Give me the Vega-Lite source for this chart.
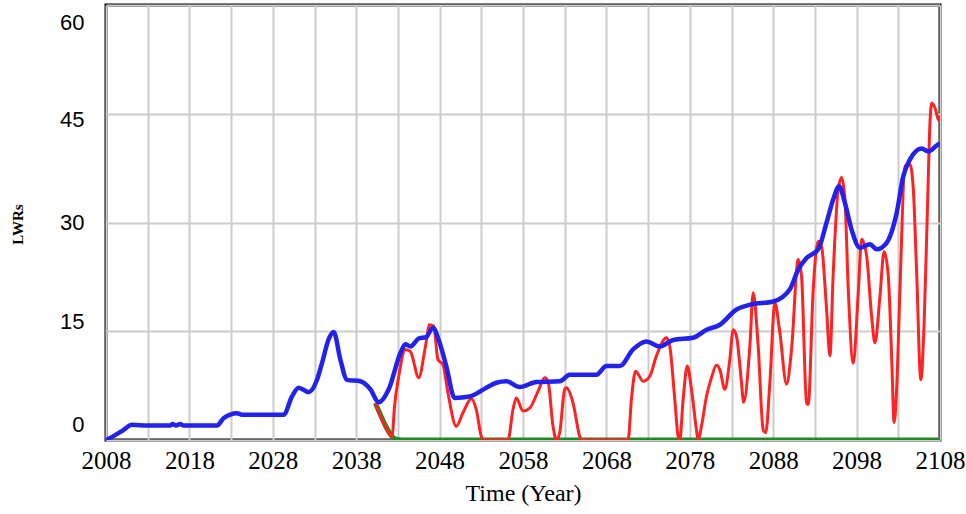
{
  "$schema": "https://vega.github.io/schema/vega-lite/v6.json",
  "width": 834,
  "height": 435,
  "autosize": {"type": "none"},
  "padding": {"left": 106, "top": 5, "right": 26, "bottom": 74},
  "background": "white",
  "config": {
    "view": {"stroke": "black", "strokeWidth": 3},
    "axis": {"gridColor": "#cccccc", "gridWidth": 2, "domain": false, "ticks": false}
  },
  "datasets": {
    "blue": [
      {"year": 2008, "value": 0}, {"year": 2009, "value": 0.6}, {"year": 2010, "value": 1.3},
      {"year": 2011.1, "value": 2.1}, {"year": 2013, "value": 2.0}, {"year": 2015.7, "value": 2.0},
      {"year": 2016, "value": 2.2}, {"year": 2016.4, "value": 2.0}, {"year": 2016.9, "value": 2.2},
      {"year": 2017.3, "value": 2.0}, {"year": 2021.3, "value": 2.0}, {"year": 2022.1, "value": 3.0},
      {"year": 2023.7, "value": 3.7}, {"year": 2024.3, "value": 3.5}, {"year": 2029.3, "value": 3.5},
      {"year": 2030.3, "value": 6.0}, {"year": 2031.1, "value": 7.2}, {"year": 2032.3, "value": 6.6},
      {"year": 2033.3, "value": 8.3}, {"year": 2033.9, "value": 10.6}, {"year": 2034.7, "value": 13.9},
      {"year": 2035.3, "value": 14.9}, {"year": 2036.1, "value": 11.1}, {"year": 2036.9, "value": 8.3},
      {"year": 2038.5, "value": 8.1}, {"year": 2039.7, "value": 7.0}, {"year": 2040.7, "value": 5.2},
      {"year": 2041.9, "value": 7.0}, {"year": 2043.3, "value": 12.0}, {"year": 2043.9, "value": 13.2},
      {"year": 2044.5, "value": 12.9}, {"year": 2045.5, "value": 14.0}, {"year": 2046.4, "value": 14.2},
      {"year": 2047.2, "value": 15.5}, {"year": 2048.0, "value": 13.4}, {"year": 2048.8, "value": 10.2},
      {"year": 2049.8, "value": 5.8}, {"year": 2051.6, "value": 6.0}, {"year": 2053.6, "value": 7.2},
      {"year": 2054.8, "value": 7.9}, {"year": 2056.0, "value": 8.1}, {"year": 2057.6, "value": 7.3},
      {"year": 2059.6, "value": 8.0}, {"year": 2062.4, "value": 8.1}, {"year": 2063.6, "value": 9.0},
      {"year": 2066.8, "value": 9.0}, {"year": 2068.0, "value": 10.2}, {"year": 2069.6, "value": 10.2},
      {"year": 2071.2, "value": 12.5}, {"year": 2072.8, "value": 13.6}, {"year": 2074.4, "value": 12.9},
      {"year": 2076.0, "value": 13.8}, {"year": 2078.4, "value": 14.1}, {"year": 2080.0, "value": 15.2},
      {"year": 2081.6, "value": 15.9}, {"year": 2083.6, "value": 18.0}, {"year": 2085.4, "value": 18.7},
      {"year": 2088.0, "value": 19.1}, {"year": 2090.0, "value": 20.8}, {"year": 2091.0, "value": 23.5},
      {"year": 2092.0, "value": 25.1}, {"year": 2093.4, "value": 26.3}, {"year": 2094.4, "value": 30.0},
      {"year": 2095.2, "value": 33.2}, {"year": 2095.9, "value": 35.0}, {"year": 2096.6, "value": 32.7},
      {"year": 2097.4, "value": 29.0}, {"year": 2098.4, "value": 26.5}, {"year": 2099.6, "value": 27.0},
      {"year": 2100.4, "value": 26.3}, {"year": 2101.6, "value": 27.2}, {"year": 2102.8, "value": 31.3},
      {"year": 2103.6, "value": 36.4}, {"year": 2104.4, "value": 38.7}, {"year": 2105.8, "value": 40.2},
      {"year": 2106.6, "value": 39.8}, {"year": 2107.8, "value": 40.8}, {"year": 2108, "value": 40.9}
    ],
    "red": [
      {"year": 2040.3, "value": 5.1}, {"year": 2041.9, "value": 1.0}, {"year": 2042.3, "value": 0.5},
      {"year": 2042.6, "value": 4.7}, {"year": 2043.1, "value": 8.8}, {"year": 2043.9, "value": 12.5},
      {"year": 2044.5, "value": 12.2}, {"year": 2045.5, "value": 8.6}, {"year": 2046.3, "value": 12.9},
      {"year": 2046.8, "value": 15.9}, {"year": 2047.3, "value": 15.7}, {"year": 2047.8, "value": 11.1},
      {"year": 2048.4, "value": 10.4}, {"year": 2049.0, "value": 6.5}, {"year": 2050.0, "value": 1.9},
      {"year": 2050.8, "value": 3.75}, {"year": 2051.8, "value": 5.7}, {"year": 2052.4, "value": 4.2},
      {"year": 2053.0, "value": 0.5}, {"year": 2053.2, "value": 0}, {"year": 2056.2, "value": 0},
      {"year": 2056.8, "value": 4.2}, {"year": 2057.2, "value": 5.8}, {"year": 2058.0, "value": 4.0},
      {"year": 2058.8, "value": 4.4}, {"year": 2059.8, "value": 6.7}, {"year": 2060.6, "value": 8.6},
      {"year": 2061.0, "value": 8.1}, {"year": 2061.6, "value": 1.9}, {"year": 2062.0, "value": 0},
      {"year": 2062.4, "value": 1.0}, {"year": 2063.0, "value": 7.0}, {"year": 2063.2, "value": 7.2},
      {"year": 2064.0, "value": 5.1}, {"year": 2064.8, "value": 0.5}, {"year": 2065.0, "value": 0},
      {"year": 2070.6, "value": 0}, {"year": 2071.0, "value": 5.6}, {"year": 2071.5, "value": 9.5},
      {"year": 2072.4, "value": 8.1}, {"year": 2073.2, "value": 8.8}, {"year": 2074.0, "value": 11.6},
      {"year": 2075.2, "value": 14.1}, {"year": 2075.6, "value": 12.9}, {"year": 2076.2, "value": 5.6},
      {"year": 2076.6, "value": 0.5}, {"year": 2076.8, "value": 0}, {"year": 2077.2, "value": 5.6},
      {"year": 2077.7, "value": 10.2}, {"year": 2078.2, "value": 7.0}, {"year": 2078.8, "value": 1.4},
      {"year": 2079.0, "value": 0}, {"year": 2079.4, "value": 1.9}, {"year": 2080.0, "value": 6.0},
      {"year": 2080.6, "value": 8.6}, {"year": 2081.2, "value": 10.3}, {"year": 2081.6, "value": 9.7},
      {"year": 2082.2, "value": 7.0}, {"year": 2082.8, "value": 11.1}, {"year": 2083.2, "value": 15.2},
      {"year": 2083.6, "value": 14.3}, {"year": 2084.2, "value": 7.9}, {"year": 2084.45, "value": 5.2},
      {"year": 2085.2, "value": 12.9}, {"year": 2085.6, "value": 20.3}, {"year": 2086.2, "value": 12.9},
      {"year": 2086.8, "value": 1.4}, {"year": 2087.1, "value": 1.0}, {"year": 2087.6, "value": 7.9},
      {"year": 2088.2, "value": 18.9}, {"year": 2088.8, "value": 14.8}, {"year": 2089.6, "value": 7.7},
      {"year": 2090.2, "value": 12.5}, {"year": 2091.0, "value": 24.9}, {"year": 2091.4, "value": 22.6},
      {"year": 2092.0, "value": 5.1}, {"year": 2092.2, "value": 4.9}, {"year": 2092.8, "value": 20.8},
      {"year": 2093.4, "value": 27.4}, {"year": 2093.8, "value": 26.7}, {"year": 2094.4, "value": 18.0},
      {"year": 2094.8, "value": 11.6}, {"year": 2095.2, "value": 23.1}, {"year": 2095.8, "value": 34.6},
      {"year": 2096.2, "value": 36.2}, {"year": 2096.6, "value": 33.2}, {"year": 2097.0, "value": 20.8},
      {"year": 2097.6, "value": 10.6}, {"year": 2098.2, "value": 20.3}, {"year": 2098.6, "value": 27.7},
      {"year": 2099.2, "value": 25.4}, {"year": 2099.8, "value": 17.1}, {"year": 2100.2, "value": 13.4},
      {"year": 2100.8, "value": 19.8}, {"year": 2101.3, "value": 26.0}, {"year": 2101.8, "value": 22.6},
      {"year": 2102.2, "value": 11.6}, {"year": 2102.5, "value": 2.4}, {"year": 2102.8, "value": 7.0},
      {"year": 2103.2, "value": 20.8}, {"year": 2103.8, "value": 37.8}, {"year": 2104.4, "value": 38.0},
      {"year": 2104.8, "value": 34.6}, {"year": 2105.2, "value": 23.1}, {"year": 2105.7, "value": 8.3},
      {"year": 2106.1, "value": 16.2}, {"year": 2106.5, "value": 32.2}, {"year": 2106.8, "value": 43.8},
      {"year": 2107.0, "value": 46.5}, {"year": 2107.4, "value": 45.8}, {"year": 2107.8, "value": 44.2},
      {"year": 2108, "value": 44.0}
    ],
    "green": [
      {"year": 2040.3, "value": 5.1}, {"year": 2040.9, "value": 3.5}, {"year": 2041.5, "value": 2.0},
      {"year": 2042.1, "value": 0.8}, {"year": 2042.8, "value": 0.1}, {"year": 2043.5, "value": 0},
      {"year": 2108, "value": 0}
    ]
  },
  "encoding": {
    "x": {
      "field": "year", "type": "quantitative",
      "scale": {"domain": [2008, 2108], "nice": false, "zero": false},
      "axis": {
        "title": "Time (Year)",
        "values": [2008, 2013, 2018, 2023, 2028, 2033, 2038, 2043, 2048, 2053, 2058, 2063, 2068, 2073, 2078, 2083, 2088, 2093, 2098, 2103, 2108],
        "labelExpr": "(datum.value - 2008) % 10 == 0 ? datum.value : ''",
        "labelFlush": false,
        "labelOverlap": false,
        "labelFont": "Liberation Serif",
        "labelFontSize": 25,
        "labelColor": "black",
        "labelPadding": 8,
        "titleFont": "Liberation Serif",
        "titleFontSize": 24,
        "titleFontWeight": "normal",
        "titleColor": "black",
        "titlePadding": 8
      }
    },
    "y": {
      "field": "value", "type": "quantitative",
      "scale": {"domain": [0, 60], "nice": false},
      "axis": {
        "title": "LWRs",
        "values": [0, 15, 30, 45, 60],
        "labelFont": "Liberation Sans",
        "labelFontSize": 22,
        "labelColor": "black",
        "labelPadding": 22,
        "labelOffset": {
          "condition": [
            {"test": "datum.value == 60", "value": 17},
            {"test": "datum.value == 45", "value": 6},
            {"test": "datum.value == 15", "value": -10},
            {"test": "datum.value == 0", "value": -16}
          ],
          "value": 0
        },
        "titleFont": "Liberation Serif",
        "titleFontSize": 15,
        "titleFontWeight": "bold",
        "titleColor": "black",
        "titleX": -89,
        "titleY": 219,
        "titleAlign": "center",
        "titleBaseline": "middle",
        "titleAngle": -90
      }
    }
  },
  "layer": [
    {"data": {"name": "green"}, "mark": {"type": "line", "color": "#1f8a1f", "strokeWidth": 5, "interpolate": "monotone", "clip": true}},
    {"data": {"name": "red"}, "mark": {"type": "line", "color": "#ff2222", "strokeWidth": 3, "interpolate": "monotone", "clip": true}},
    {"data": {"name": "blue"}, "mark": {"type": "line", "color": "#2222ee", "strokeWidth": 4.5, "interpolate": "monotone", "clip": true}}
  ]
}
